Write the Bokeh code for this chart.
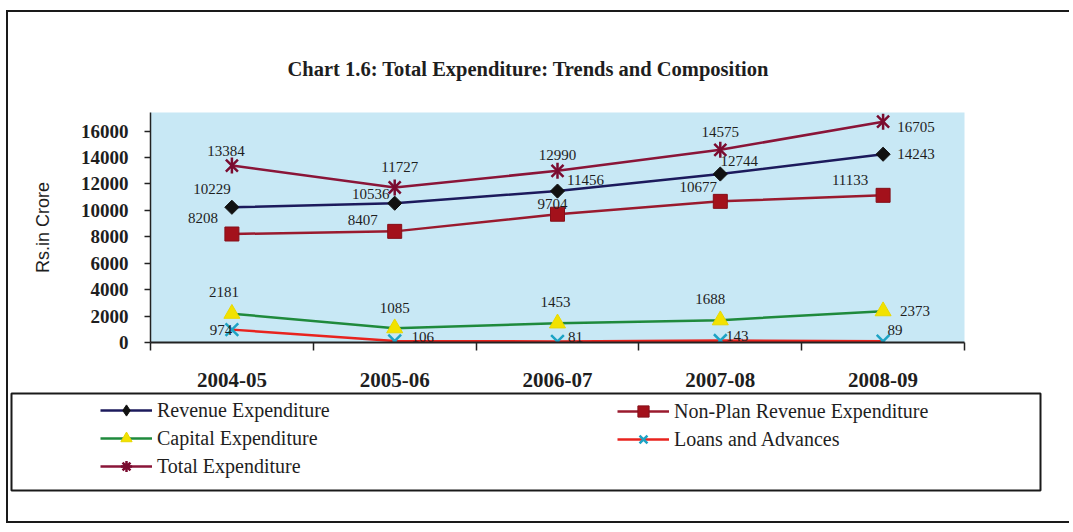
import numpy as np
from bokeh.plotting import figure
from bokeh.models import Range1d, FixedTicker, Legend, LegendItem, NumeralTickFormatter
from bokeh.embed import file_html
from bokeh.resources import INLINE
from bokeh.core.properties import value

# ---------------- data ----------------
categories = ["2004-05", "2005-06", "2006-07", "2007-08", "2008-09"]
revenue_exp = [10229, 10536, 11456, 12744, 14243]
non_plan_rev_exp = [8208, 8407, 9704, 10677, 11133]
capital_exp = [2181, 1085, 1453, 1688, 2373]
loans_advances = [974, 106, 81, 143, 89]
total_exp = [13384, 11727, 12990, 14575, 16705]
y_ticks = [0, 2000, 4000, 6000, 8000, 10000, 12000, 14000, 16000]

title_text = "Chart 1.6: Total Expenditure: Trends and Composition"
y_title = "Rs.in Crore"

# ---------------- styles ----------------
SERIF = "Liberation Serif"
SANS = "Liberation Sans"
TXT = "#1e1e1e"
EDGE = "#1a1a1a"

series = [
    dict(name="Revenue Expenditure", values=revenue_exp, line="#1c1a5c",
         markers=[dict(marker="square", angle=np.pi / 4, size=10, fill_color="#111111", line_color="#111111", line_width=1)],
         legend_markers=[dict(marker="diamond", fill_color="#111111", line_color="#111111", line_width=1)],
         dx=[-20, -24, 28, 19, 33], up=[18, 9, 11, 13, 0]),
    dict(name="Non-Plan Revenue Expenditure", values=non_plan_rev_exp, line="#9a1a2e",
         markers=[dict(marker="square", angle=0, size=14, fill_color="#a3111b", line_color="#85101a", line_width=1)],
         legend_markers=[dict(marker="square", fill_color="#a3111b", line_color="#85101a", line_width=1)],
         dx=[-29, -32, -5, -22, -33], up=[16, 11, 10, 14, 15]),
    dict(name="Capital Expenditure", values=capital_exp, line="#1f8a3c",
         markers=[dict(marker="triangle", angle=0, size=16, fill_color="#f2e200", line_color="#e8d800", line_width=1)],
         legend_markers=[dict(marker="triangle", fill_color="#f2e200", line_color="#e8d800", line_width=1)],
         dx=[-8, 0, -2, -10, 32], up=[22, 20, 21, 21, 0]),
    dict(name="Loans and Advances", values=loans_advances, line="#e8231e",
         markers=[dict(marker="x", angle=0, size=18, fill_color=None, line_color="#1ea3c4", line_width=2.5)],
         legend_markers=[dict(marker="x", fill_color=None, line_color="#1ea3c4", line_width=2.5)],
         dx=[-11, 28, 18, 17, 12], up=[0, 4, 4, 5, 11]),
    dict(name="Total Expenditure", values=total_exp, line="#8a1538",
         markers=[dict(marker="x", angle=0, size=17, fill_color=None, line_color="#7a0c30", line_width=2.5),
                  dict(marker="dash", angle=np.pi / 2, size=16, fill_color=None, line_color="#7a0c30", line_width=2.5)],
         legend_markers=[dict(marker="asterisk", fill_color=None, line_color="#7a0c30", line_width=2.5)],
         dx=[-6, 5, 0, 0, 33], up=[15, 20, 16, 18, -5]),
]

x = [i + 0.5 for i in range(len(categories))]

# ---------------- chart ----------------
p = figure(width=1063, height=380,
           x_range=Range1d(0, len(categories)), y_range=Range1d(0, 17400),
           output_backend="svg", toolbar_location=None,
           min_border_left=142, min_border_right=107,
           min_border_top=100, min_border_bottom=50,
           background_fill_color="#c8e8f5", border_fill_color="white",
           outline_line_color=None,
           styles={"border-left": f"2px solid {EDGE}", "border-top": f"2px solid {EDGE}",
                   "border-right": "none", "border-bottom": "none",
                   "margin-top": "10px", "margin-left": "6px"})

p.title.text = title_text
p.title.align = "left"
p.title.offset = 137
p.title.standoff = 65
p.title.text_font = SERIF
p.title.text_font_style = "bold"
p.title.text_font_size = "20.5px"
p.title.text_color = TXT

p.xgrid.visible = False
p.ygrid.visible = False

yax = p.yaxis[0]
yax.ticker = FixedTicker(ticks=y_ticks)
yax.formatter = NumeralTickFormatter(format="0")
yax.major_label_text_font = SERIF
yax.major_label_text_font_style = "bold"
yax.major_label_text_font_size = "19px"
yax.major_label_text_color = TXT
yax.major_tick_out = 6
yax.major_tick_in = 0
yax.minor_tick_line_color = None
yax.major_tick_line_color = "#222222"
yax.major_tick_line_width = 1.5
yax.axis_line_color = "#222222"
yax.axis_line_width = 1.5
yax.major_label_standoff = 16
yax.axis_label = y_title
yax.axis_label_text_font = SANS
yax.axis_label_text_font_style = "normal"
yax.axis_label_text_font_size = "18px"
yax.axis_label_text_color = TXT
yax.axis_label_standoff = 25

xax = p.xaxis[0]
xax.ticker = FixedTicker(ticks=x, minor_ticks=list(range(len(categories) + 1)))
xax.major_label_overrides = {xi: c for xi, c in zip(x, categories)}
xax.major_tick_line_color = None
xax.major_tick_out = 0
xax.major_tick_in = 0
xax.minor_tick_out = 8
xax.minor_tick_in = 0
xax.minor_tick_line_color = "#222222"
xax.minor_tick_line_width = 1.5
xax.axis_line_color = "#222222"
xax.axis_line_width = 2
xax.major_label_standoff = 22
xax.major_label_text_font = SERIF
xax.major_label_text_font_style = "bold"
xax.major_label_text_font_size = "21px"
xax.major_label_text_color = TXT

for s in series:
    p.line(x, s["values"], line_color=s["line"], line_width=2.5)
for s in series:
    for m in s["markers"]:
        p.scatter(x, s["values"], marker=m["marker"], angle=m["angle"], size=m["size"],
                  fill_color=m["fill_color"], line_color=m["line_color"], line_width=m["line_width"])
for s in series:
    p.text(x=x, y=s["values"], text=[str(v) for v in s["values"]],
           x_offset=s["dx"], y_offset=[-u for u in s["up"]],
           text_align="center", text_baseline="middle",
           text_font=value(SERIF), text_font_size="15px", text_color=TXT)

# ---------------- legend box (separate root, its frame outline = the box) ----------------
lg = figure(width=1063, height=133, x_range=Range1d(0, 1), y_range=Range1d(0, 1),
            output_backend="svg", toolbar_location=None,
            x_axis_type=None, y_axis_type=None,
            min_border_left=3, min_border_right=31, min_border_top=3, min_border_bottom=33,
            outline_line_color=EDGE, outline_line_width=2,
            background_fill_color="white", border_fill_color="white",
            styles={"border-left": f"2px solid {EDGE}", "border-bottom": f"2px solid {EDGE}",
                    "border-top": "none", "border-right": "none",
                    "margin-left": "6px"})
lg.xgrid.visible = False
lg.ygrid.visible = False

nan = [float("nan")]


def legend_item(s):
    rs = [lg.line(x=nan, y=nan, line_color=s["line"], line_width=2.5)]
    for m in s["legend_markers"]:
        rs.append(lg.scatter(x=nan, y=nan, marker=m["marker"], fill_color=m["fill_color"],
                             line_color=m["line_color"], line_width=m["line_width"]))
    return LegendItem(label=s["name"], renderers=rs)


by_name = {s["name"]: s for s in series}
common = dict(orientation="vertical", border_line_color=None, background_fill_alpha=0,
              padding=0, margin=0, spacing=0, glyph_width=52, glyph_height=28, label_height=28,
              label_standoff=5, label_text_font=SERIF, label_text_font_size="20px",
              label_text_color=TXT, label_text_baseline="middle")
lg.add_layout(Legend(items=[legend_item(by_name[n]) for n in
                            ["Revenue Expenditure", "Capital Expenditure", "Total Expenditure"]],
                     location=(89, 10), **common))
lg.add_layout(Legend(items=[legend_item(by_name[n]) for n in
                            ["Non-Plan Revenue Expenditure", "Loans and Advances"]],
                     location=(606, 37), **common))

open("out.html", "w").write(file_html([p, lg], INLINE))
